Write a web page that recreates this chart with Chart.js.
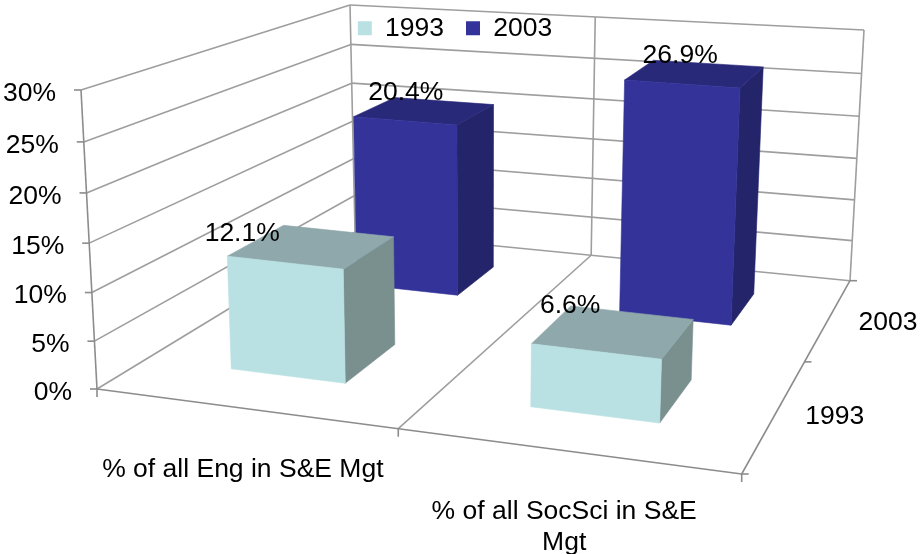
<!DOCTYPE html>
<html>
<head>
<meta charset="utf-8">
<style>
html,body{margin:0;padding:0;background:#fff}
canvas{display:block}
</style>
<script src="https://cdn.jsdelivr.net/npm/chart.js@4/dist/chart.umd.min.js"></script>
</head>
<body>
<canvas id="c" width="923" height="554"></canvas>
<script>
const CATEGORIES=['% of all Eng in S&E Mgt',['% of all SocSci in S&E','Mgt']];
const SERIES=['1993','2003'];
const VALUES_1993=[12.1,6.6];
const VALUES_2003=[20.4,26.9];
const LABELS_1993=['12.1%','6.6%'];
const LABELS_2003=['20.4%','26.9%'];
const Y_TICK_STEP=5;
const Y_MAX=30;

/* 3D 상자 모서리(픽셀) : f=앞 b=뒤, l=왼 r=오 */
const FLOOR={fl:[97,389],fr:[741.7,474],bl:[355,232],br:[850,280.7]};
const RISE={fl:[-16,-299],fr:[13,-318],bl:[-5,-227],br:[14,-250.7]};
const WARP_U=1.14, WARP_U_BACK=1.096, WARP_W=.724, WARP_V=1.05;   // 원근 보정
const DEPTH_HALF=.1;
const FONT='26.5px "Liberation Sans"';
const GRID='#9e9e9e', AXIS='#8c8c8c';
const FACES=[
  {front:'#b9e0e3',top:'#8fa8ab',side:'#79908f'},
  {front:'#333399',top:'#29297a',side:'#24246b'},
];
// 값 라벨 위치 보정 (상자 윗면 중심 기준)
const NUDGE=[[[-70,-13],[-44,-26]],[[-19,-18],[-15,-18]]];

const warp=(t,k)=>t/(t+k*(1-t));
const mix=(a,b,t)=>[a[0]+(b[0]-a[0])*t,a[1]+(b[1]-a[1])*t];
const bilerp=(q,u,w)=>mix(mix(q.fl,q.fr,u),mix(q.bl,q.br,u),w);
function proj(u,w,v){
  const W=warp(w,WARP_W),U=warp(u,WARP_U+(WARP_U_BACK-WARP_U)*W),V=warp(v,WARP_V);
  const p=bilerp(FLOOR,U,W),r=bilerp(RISE,U,W);
  return [p[0]+r[0]*V,p[1]+r[1]*V];
}
function line(ctx,a,b,color,lw){
  ctx.strokeStyle=color;ctx.lineWidth=lw||1.6;
  ctx.beginPath();ctx.moveTo(a[0],a[1]);ctx.lineTo(b[0],b[1]);ctx.stroke();
}
function poly(ctx,pts,color){
  ctx.fillStyle=color;ctx.strokeStyle=color;ctx.lineWidth=.6;
  ctx.beginPath();pts.forEach((p,i)=>i?ctx.lineTo(p[0],p[1]):ctx.moveTo(p[0],p[1]));
  ctx.closePath();ctx.fill();ctx.stroke();
}
function text(ctx,s,x,y,align){
  ctx.font=FONT;ctx.fillStyle='#000';ctx.textAlign=align||'center';ctx.textBaseline='middle';
  ctx.fillText(s,x,y);
}

const box3d={
  id:'box3d',
  beforeInit(chart){
    const fit=chart.legend.fit;
    chart.legend.fit=function(){fit.call(this);this.height=97;};
  },
  // 막대 기본 렌더링 대신 엘리먼트 좌표를 3D로 투영해서 그림
  beforeDatasetsDraw(chart){
    const ctx=chart.ctx,{x,y,z}=chart.scales;
    const vOf=px=>(y.bottom-px)/(y.bottom-y.top);
    ctx.save();
    ctx.lineCap='butt';
    // 벽 가로선
    y.ticks.forEach(t=>{
      const v=vOf(y.getPixelForValue(t.value));
      line(ctx,proj(0,0,v),proj(0,1,v),GRID);
      line(ctx,proj(0,1,v),proj(1,1,v),GRID);
    });
    // 뒷벽 세로선
    [0,.5,1].forEach(u=>line(ctx,proj(u,1,0),proj(u,1,1),GRID));
    // 바닥
    line(ctx,proj(.5,0,0),proj(.5,1,0),GRID);
    line(ctx,proj(1,0,0),proj(1,1,0),AXIS);
    line(ctx,proj(0,0,0),proj(1,0,0),AXIS);
    line(ctx,proj(0,0,0),proj(0,0,1),AXIS);
    // 눈금
    y.ticks.forEach(t=>{
      const p=proj(0,0,vOf(y.getPixelForValue(t.value)));
      line(ctx,p,[p[0]-7,p[1]],AXIS);
      text(ctx,t.label,p[0]-25,p[1]+3.5,'right');
    });
    [0,.5,1].forEach(u=>{const p=proj(u,0,0);line(ctx,p,[p[0],p[1]+8],AXIS);});
    [0,.5,1].forEach(w=>{const p=proj(1,w,0);line(ctx,p,[p[0]+7,p[1]],AXIS);});
    // 막대: 뒤쪽 시리즈부터
    for(let d=chart.data.datasets.length-1;d>=0;d--){
      const wc=(z.getPixelForValue(d)-z.left)/z.width,w0=wc-DEPTH_HALF,w1=wc+DEPTH_HALF,c=FACES[d];
      chart.getDatasetMeta(d).data.forEach(el=>{
        const uc=(el.x-x.left)/x.width,h=el.width/2/x.width,u0=uc-h,u1=uc+h,v=vOf(el.y);
        poly(ctx,[proj(u1,w0,0),proj(u1,w1,0),proj(u1,w1,v),proj(u1,w0,v)],c.side);
        poly(ctx,[proj(u0,w0,v),proj(u1,w0,v),proj(u1,w1,v),proj(u0,w1,v)],c.top);
        poly(ctx,[proj(u0,w0,0),proj(u1,w0,0),proj(u1,w0,v),proj(u0,w0,v)],c.front);
      });
    }
    // 값 라벨
    chart.data.datasets.forEach((ds,d)=>{
      const wc=(z.getPixelForValue(d)-z.left)/z.width;
      chart.getDatasetMeta(d).data.forEach((el,i)=>{
        const p=proj((el.x-x.left)/x.width,wc,vOf(el.y));
        text(ctx,ds.valueLabels[i],p[0]+NUDGE[d][i][0],p[1]+NUDGE[d][i][1]);
      });
    });
    // 축 라벨
    CATEGORIES.forEach((lab,i)=>{
      const p=proj((x.getPixelForValue(i)-x.left)/x.width,0,0);
      [].concat(lab).forEach((s,n)=>text(ctx,s,p[0],p[1]+61+n*31));
    });
    SERIES.forEach((s,i)=>{
      const p=proj(1,(z.getPixelForValue(i)-z.left)/z.width,0);
      text(ctx,s,p[0]+59,p[1]+4);
    });
    ctx.restore();
    return false;
  }
};

new Chart(document.getElementById('c'),{
  type:'bar',
  data:{labels:CATEGORIES,datasets:[
    {label:SERIES[0],data:VALUES_1993,valueLabels:LABELS_1993,backgroundColor:FACES[0].front,borderWidth:0},
    {label:SERIES[1],data:VALUES_2003,valueLabels:LABELS_2003,backgroundColor:FACES[1].front,borderWidth:0},
  ]},
  options:{
    responsive:false,animation:false,devicePixelRatio:1,
    layout:{padding:{left:81,right:94,top:-7,bottom:165}},
    datasets:{bar:{grouped:false,categoryPercentage:1,barPercentage:.395}},
    plugins:{
      tooltip:{enabled:false},
      legend:{position:'top',labels:{boxWidth:14,boxHeight:14,padding:22,color:'#000',font:{family:'"Liberation Sans"',size:26.5}}},
    },
    scales:{
      x:{display:false,offset:true},
      z:{type:'category',axis:'x',position:'bottom',labels:SERIES,display:false,offset:true},
      y:{display:false,min:0,max:Y_MAX,ticks:{stepSize:Y_TICK_STEP,callback:v=>v+'%'}},
    },
  },
  plugins:[box3d],
});
</script>
</body>
</html>
